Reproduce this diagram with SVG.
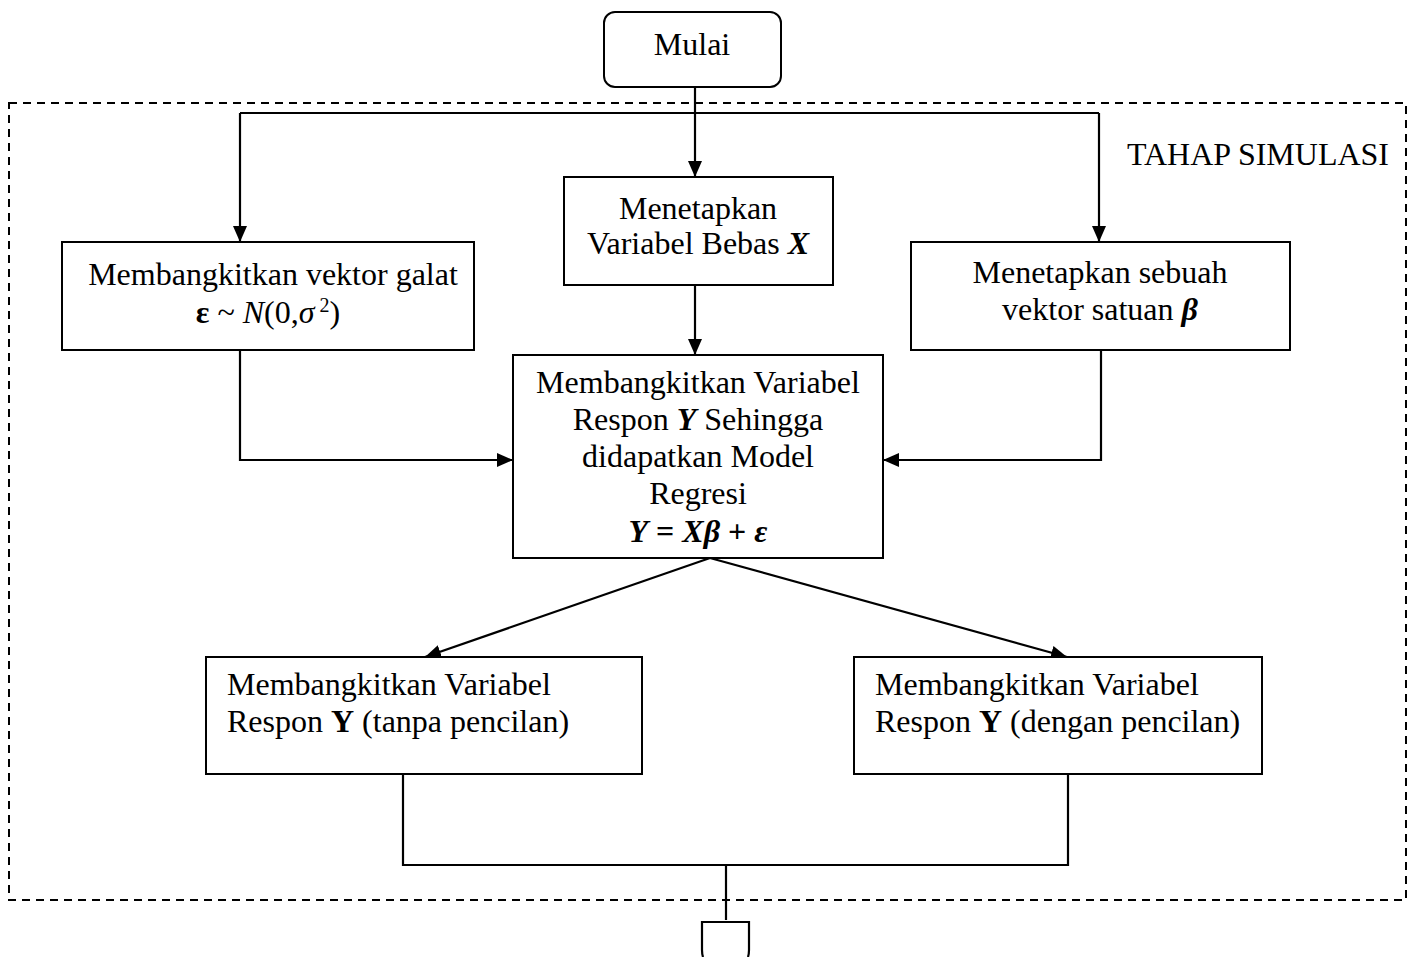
<svg xmlns="http://www.w3.org/2000/svg" width="1413" height="957" viewBox="0 0 1413 957">
<style>
.box{fill:#fff;stroke:#000;stroke-width:2}
.ln{fill:none;stroke:#000;stroke-width:2.2}
.t{font-family:"Liberation Serif","Times New Roman",serif;font-size:32px;fill:#000}
.c{text-anchor:middle}
.bi{font-weight:bold;font-style:italic}
.b{font-weight:bold}
.i{font-style:italic}
</style>
<defs>
<marker id="ah" viewBox="0 0 16 14" refX="16" refY="7" markerWidth="16" markerHeight="14" markerUnits="userSpaceOnUse" orient="auto">
<path d="M0,0 L16,7 L0,14 Z" fill="#000"/>
</marker>
</defs>
<rect width="1413" height="957" fill="#fff"/>
<rect id="frame" x="9" y="103" width="1397" height="797" fill="none" stroke="#000" stroke-width="2" stroke-dasharray="8,6"/>
<text class="t" x="1389" y="165" text-anchor="end">TAHAP SIMULASI</text>

<g id="connectors">
<path class="ln" d="M695,87 V177" marker-end="url(#ah)"/>
<path class="ln" d="M240,113 H1099"/>
<path class="ln" d="M240,113 V242" marker-end="url(#ah)"/>
<path class="ln" d="M1099,113 V242" marker-end="url(#ah)"/>
<path class="ln" d="M695,285 V355" marker-end="url(#ah)"/>
<path class="ln" d="M240,350 V460 H513" marker-end="url(#ah)"/>
<path class="ln" d="M1101,350 V460 H883" marker-end="url(#ah)"/>
<path class="ln" d="M710,558 L425,657" marker-end="url(#ah)"/>
<path class="ln" d="M710,558 L1067,657" marker-end="url(#ah)"/>
<path class="ln" d="M403,774 V865 H1068 V774"/>
<path class="ln" d="M726,865 V920"/>
</g>

<g id="start">
<rect class="box" x="604" y="12" width="177" height="75" rx="11"/>
<text class="t c" x="692" y="55">Mulai</text>
</g>

<g id="setX">
<rect class="box" x="564" y="177" width="269" height="108"/>
<text class="t c" x="698" y="219">Menetapkan</text>
<text class="t c" x="698" y="254">Variabel Bebas <tspan class="bi">X</tspan></text>
</g>

<g id="genError">
<rect class="box" x="62" y="242" width="412" height="108"/>
<text class="t c" x="273" y="285">Membangkitkan vektor galat</text>
<text class="t c" x="268" y="323"><tspan class="b">ε</tspan> ~ <tspan class="i">N</tspan>(0,<tspan class="i">σ</tspan><tspan font-size="20" dy="-11"> 2</tspan><tspan dy="11">)</tspan></text>
</g>

<g id="setBeta">
<rect class="box" x="911" y="242" width="379" height="108"/>
<text class="t c" x="1100" y="283">Menetapkan sebuah</text>
<text class="t c" x="1100" y="320">vektor satuan <tspan class="bi">β</tspan></text>
</g>

<g id="genModel">
<rect class="box" x="513" y="355" width="370" height="203"/>
<text class="t c" x="698" y="393">Membangkitkan Variabel</text>
<text class="t c" x="698" y="430">Respon <tspan class="bi">Y</tspan> Sehingga</text>
<text class="t c" x="698" y="467">didapatkan Model</text>
<text class="t c" x="698" y="504">Regresi</text>
<text class="t c" x="698" y="542"><tspan class="bi">Y</tspan><tspan class="b"> = </tspan><tspan class="bi">Xβ</tspan><tspan class="b"> + </tspan><tspan class="bi">ε</tspan></text>
</g>

<g id="noOutlier">
<rect class="box" x="206" y="657" width="436" height="117"/>
<text class="t" x="227" y="695">Membangkitkan Variabel</text>
<text class="t" x="227" y="732">Respon <tspan class="b">Y</tspan> (tanpa pencilan)</text>
</g>

<g id="withOutlier">
<rect class="box" x="854" y="657" width="408" height="117"/>
<text class="t" x="875" y="695">Membangkitkan Variabel</text>
<text class="t" x="875" y="732">Respon <tspan class="b">Y</tspan> (dengan pencilan)</text>
</g>

<g id="offpage">
<path class="ln" d="M703,957 Q702,954 702,950 V922 H749 V950 Q749,954 748,957"/>
</g>
</svg>
